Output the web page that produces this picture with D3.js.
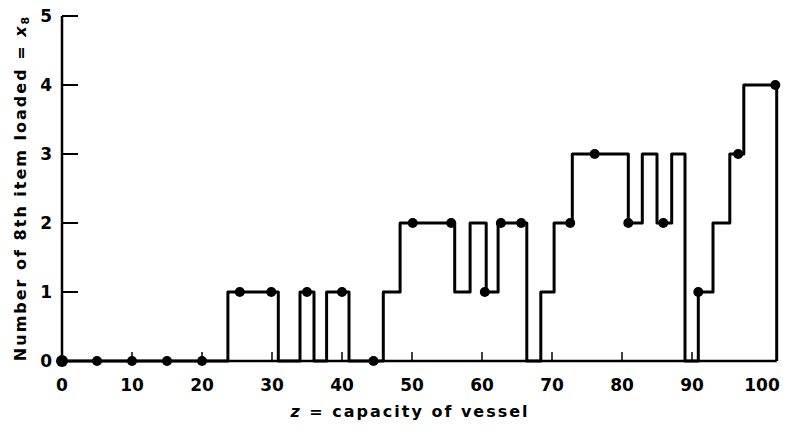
<!DOCTYPE html>
<html>
<head>
<meta charset="utf-8">
<script src="https://cdn.jsdelivr.net/npm/d3@7"></script>
<style>
  body { margin: 0; background: #fff; }
  text { font-family: "DejaVu Sans", sans-serif; fill: #000; }
</style>
</head>
<body>
<svg id="graph" width="788" height="432"></svg>
<script>
// step breakpoints: value holds from z until the next z
var zSteps = [0, 23.7, 30.9, 34, 36, 37.8, 41, 45.9, 48.3, 56.1, 58.3, 60.6, 62.3, 66.4,
    68.4, 70.3, 72.9, 80.9, 82.9, 85, 87.1, 89, 90.9, 93, 95.4, 97.4, 102.1];
var xSteps = [0, 1, 0, 1, 0, 1, 0, 1, 2, 1, 2, 1, 2, 0,
    1, 2, 3, 2, 3, 2, 3, 0, 1, 2, 3, 4, 0];

// marked points
var zDots = [0, 5, 10, 15, 20, 25.4, 29.9, 35, 40, 44.5, 50.1, 55.6, 60.4, 62.7, 65.6,
    72.6, 76.1, 80.9, 85.9, 90.9, 96.6, 101.9];
var xDots = [0, 0, 0, 0, 0, 1, 1, 1, 1, 0, 2, 2, 1, 2, 2,
    2, 3, 2, 2, 1, 3, 4];

var xTicks = [0, 10, 20, 30, 40, 50, 60, 70, 80, 90, 100];
var yTicks = [0, 1, 2, 3, 4, 5];

function creaGrafica() {
    var svg = d3.select("#graph");

    var x = d3.scaleLinear().domain([0, 100]).range([62, 762]);
    var y = d3.scaleLinear().domain([0, 5]).range([361, 16]);

    var steps = zSteps.map((z, i) => ({ z: z, v: xSteps[i] }));
    var dots = zDots.map((z, i) => ({ z: z, v: xDots[i] }));

    // eje x (linea base hasta el final de la grafica)
    svg.append("line")
        .attr("x1", x(0)).attr("x2", x(102.1))
        .attr("y1", y(0)).attr("y2", y(0))
        .attr("stroke", "#000").attr("stroke-width", 2.5);

    // ticks pequenos del eje x hacia arriba
    svg.append("g")
        .selectAll("line")
        .data(xTicks.slice(1, -1))
        .enter().append("line")
        .attr("x1", d => x(d)).attr("x2", d => x(d))
        .attr("y1", y(0)).attr("y2", y(0) - 9)
        .attr("stroke", "#000").attr("stroke-width", 1.5);

    svg.append("g")
        .selectAll("text")
        .data(xTicks)
        .enter().append("text")
        .attr("x", d => x(d))
        .attr("y", 391)
        .attr("text-anchor", "middle")
        .style("font-size", "17px")
        .style("font-weight", "bold")
        .text(d => d);

    // eje y
    svg.append("line")
        .attr("x1", x(0)).attr("x2", x(0))
        .attr("y1", y(0)).attr("y2", y(5))
        .attr("stroke", "#000").attr("stroke-width", 2.5);

    svg.append("g")
        .selectAll("line")
        .data(yTicks.slice(1))
        .enter().append("line")
        .attr("x1", x(0)).attr("x2", x(0) + 16)
        .attr("y1", d => y(d)).attr("y2", d => y(d))
        .attr("stroke", "#000").attr("stroke-width", 2);

    svg.append("g")
        .selectAll("text")
        .data(yTicks)
        .enter().append("text")
        .attr("x", 52)
        .attr("y", d => y(d))
        .attr("dy", "0.35em")
        .attr("text-anchor", "end")
        .style("font-size", "17px")
        .style("font-weight", "bold")
        .text(d => d);

    // label para eje x
    var xl = svg.append("text")
        .attr("x", 410)
        .attr("y", 417)
        .attr("text-anchor", "middle")
        .style("font-size", "16px")
        .style("font-weight", "bold")
        .style("letter-spacing", "2px");
    xl.append("tspan").style("font-style", "italic").text("z");
    xl.append("tspan").text(" = capacity  of  vessel");

    // label para eje y
    var yl = svg.append("text")
        .attr("transform", "translate(26,188) rotate(-90)")
        .attr("text-anchor", "middle")
        .style("font-size", "16px")
        .style("font-weight", "bold")
        .style("letter-spacing", "2px");
    yl.append("tspan").text("Number  of  8th  item  loaded = ");
    yl.append("tspan").style("font-style", "italic").text("x");
    yl.append("tspan").attr("dy", "0.3em").style("font-size", "11px").text("8");

    // funcion escalonada
    var linea = d3.line()
        .x(d => x(d.z))
        .y(d => y(d.v))
        .curve(d3.curveStepAfter);

    svg.append("path")
        .datum(steps)
        .attr("d", linea)
        .attr("fill", "none")
        .attr("stroke", "#000")
        .attr("stroke-width", 3)
        .attr("stroke-linejoin", "round");

    svg.append("g")
        .selectAll("circle")
        .data(dots)
        .enter().append("circle")
        .attr("cx", d => x(d.z))
        .attr("cy", d => y(d.v))
        .attr("r", d => d.z === 0 ? 6 : 5)
        .attr("fill", "#000");
}

creaGrafica();
</script>
</body>
</html>
